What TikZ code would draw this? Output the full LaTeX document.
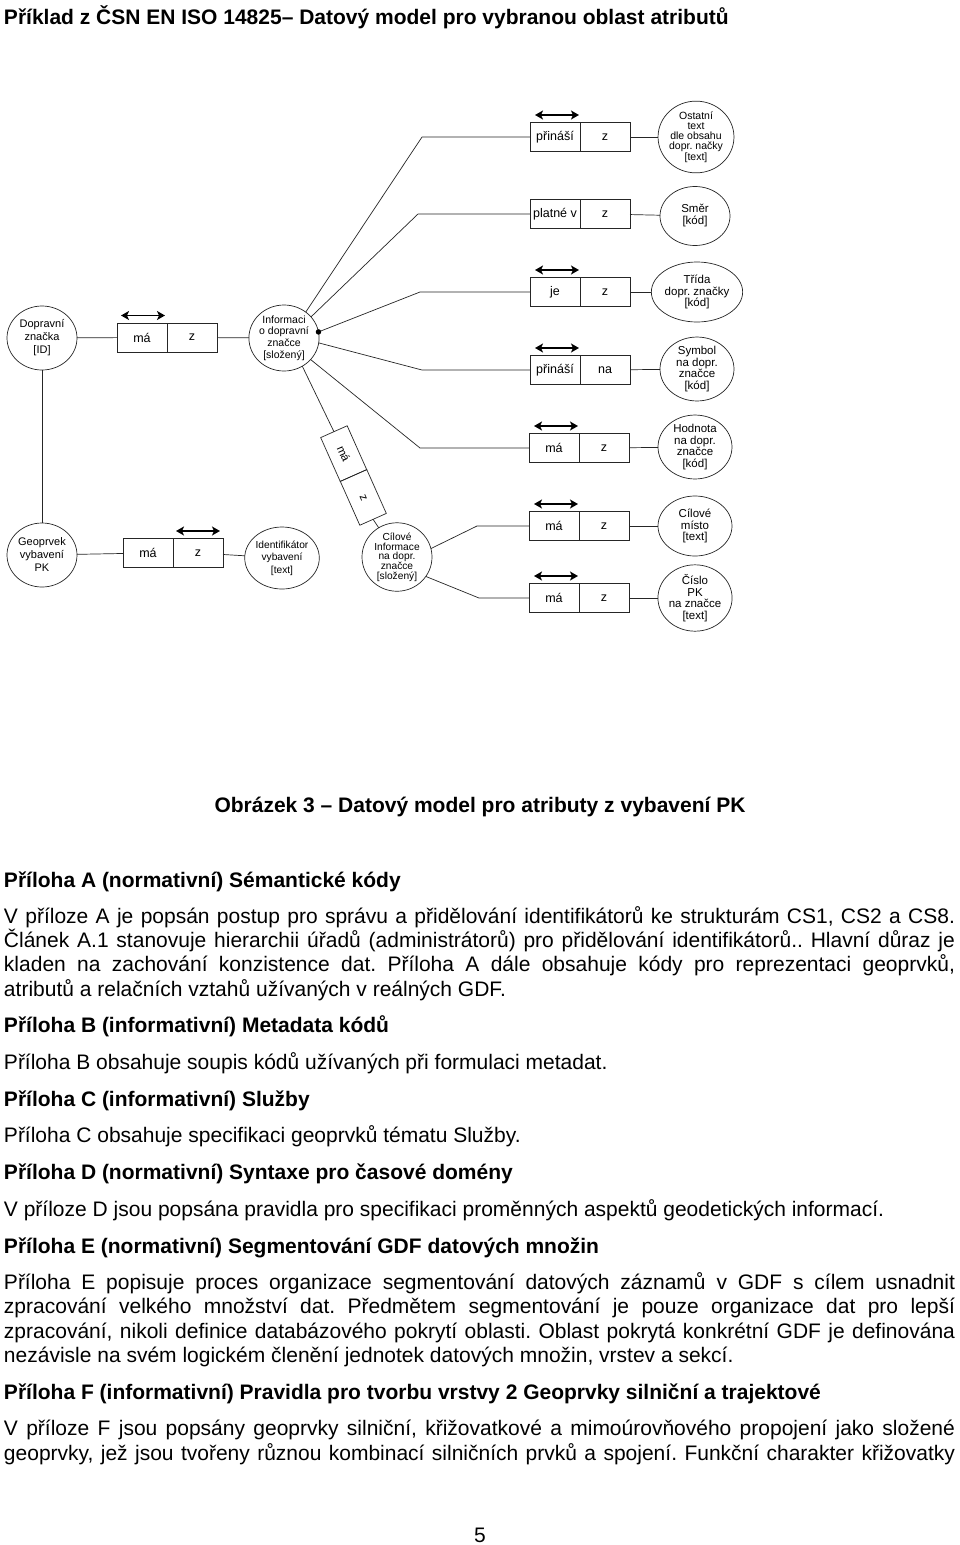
\documentclass[tikz,border=0pt]{standalone}
\usepackage{fontspec}
\setmainfont{Liberation Sans}
\usetikzlibrary{arrows.meta,shapes.geometric}
\newcommand\myfs[2]{\fontsize{#1}{#2}\selectfont}
\frenchspacing
\begin{document}
\begin{tikzpicture}[x=1pt,y=-1pt,
  every node/.style={inner sep=0pt,outer sep=0pt},
  lnk/.style={line width=0.7pt,draw=black!85},
  cell/.style={draw=black!85,line width=0.7pt,minimum width=50pt,minimum height=29pt,font=\myfs{12.5}{14}},
  ent/.style={draw=black!85,ellipse,line width=0.7pt,minimum width=74pt,minimum height=60pt,align=center,font=\myfs{11.5}{11.5}},
  lent/.style={ent,minimum width=70pt,minimum height=64pt,font=\myfs{11}{13}},
  sent/.style={ent,font=\myfs{10.5}{10.2}},
  dbl/.style={line width=1.6pt,{Stealth[length=8pt,width=9pt,inset=2pt]}-{Stealth[length=8pt,width=9pt,inset=2pt]}},
  txt/.style={anchor=base west,font=\myfs{21}{24}},
  hd/.style={anchor=base west,font=\myfs{21}{24}\bfseries},
]
\path[use as bounding box,fill=white] (0,0) rectangle (960,1545);

% ---------- title ----------
\node[hd] (title) at (4,24) {Příklad z ČSN EN ISO 14825– Datový model pro vybranou oblast atributů};

% ---------- left part ----------
\node[lent] (D) at (42,338) {Dopravní\\značka\\{}[ID]};
\node[cell,anchor=east] (la) at (167,337.5) {má};
\node[cell,anchor=west] (lb) at (167,337.5) {z};
\node[ent,minimum width=68pt,minimum height=66pt,font=\myfs{10.5}{11.7}] (I) at (284,338) {Informaci\\o dopravní\\značce\\{}[složený]};
\draw[lnk] (D) -- (la);
\draw[lnk] (lb) -- (I);
\draw[dbl] ([xshift=4pt,yshift=7.5pt]la.north west) -- ([xshift=-2pt,yshift=7.5pt]la.north east);

\node[lent] (G) at (42,555) {Geoprvek\\vybavení\\PK};
\node[cell,anchor=east] (lc) at (173,553) {má};
\node[cell,anchor=west] (ld) at (173,553) {z};
\node[lent,minimum height=62pt,font=\myfs{10.2}{12.5}] (Id) at (282,558) {Identifikátor\\vybavení\\{}[text]};
\draw[lnk] (D) -- (G);
\draw[lnk] (G) -- (lc);
\draw[lnk] (ld) -- (Id);
\draw[dbl] ([xshift=3pt,yshift=7.5pt]ld.north west) -- ([xshift=-3pt,yshift=7.5pt]ld.north east);

% ---------- rotated box ----------
\node[cell,rotate=-66,minimum width=48pt,font=\myfs{11.5}{13}] (ra) at (343.7,453.6) {má};
\node[cell,rotate=-66,minimum width=48pt,font=\myfs{11.5}{13}] (rb) at (363.3,497.4) {z};
\node[sent,minimum width=70pt,minimum height=62pt,font=\myfs{10.2}{9.7}] (CI) at (397,557) {Cílové\\Informace\\na dopr.\\značce\\{}[složený]};
\draw[lnk] (I.-57) -- (ra.west);
\draw[lnk] (rb.east) -- (CI.122);

% ---------- right column ----------
\coordinate (e1) at (422,137);
\coordinate (e2) at (418,214);
\coordinate (e3) at (420,292);
\coordinate (e4) at (422,370);
\coordinate (e5) at (420,448);
\coordinate (e6) at (477,526);
\coordinate (e7) at (479,598);

\node[cell,anchor=east] (r1a) at (580,137) {přináší};
\node[cell,anchor=west] (r1b) at (580,137) {z};
\node[sent,minimum width=66pt,minimum height=56pt] (c1) at (696,137) {Ostatní\\text\\dle obsahu\\dopr. načky\\{}[text]};

\node[cell,anchor=east] (r2a) at (580,214) {platné v};
\node[cell,anchor=west] (r2b) at (580,214) {z};
\node[ent,minimum width=70pt,minimum height=59pt,font=\myfs{11.5}{12}] (c2) at (695,216) {Směr\\{}[kód]};

\node[cell,anchor=east] (r3a) at (580,292) {je};
\node[cell,anchor=west] (r3b) at (580,292) {z};
\node[ent] (c3) at (697,292) {Třída\\dopr. značky\\{}[kód]};

\node[cell,anchor=east] (r4a) at (580,370) {přináší};
\node[cell,anchor=west] (r4b) at (580,370) {na};
\node[ent] (c4) at (697,369) {Symbol\\na dopr.\\značce\\{}[kód]};

\node[cell,anchor=east] (r5a) at (579,448) {má};
\node[cell,anchor=west] (r5b) at (579,448) {z};
\node[ent] (c5) at (695,447) {Hodnota\\na dopr.\\značce\\{}[kód]};

\node[cell,anchor=east] (r6a) at (579,526) {má};
\node[cell,anchor=west] (r6b) at (579,526) {z};
\node[ent] (c6) at (695,526) {Cílové\\místo\\{}[text]};

\node[cell,anchor=east] (r7a) at (579,598) {má};
\node[cell,anchor=west] (r7b) at (579,598) {z};
\node[ent] (c7) at (695,598) {Číslo\\PK\\na značce\\{}[text]};

\foreach \i in {1,...,7} {
  \draw[lnk] (r\i b) -- (c\i);
}
\foreach \i in {1,3,4,5,6,7} {
  \draw[dbl] ([xshift=5pt,yshift=7.5pt]r\i a.north west) -- ([xshift=-1pt,yshift=7.5pt]r\i a.north east);
}

\draw[lnk] (I.50) -- (e1) -- (r1a.west);
\draw[lnk] (I.38) -- (e2) -- (r2a.west);
\draw[lnk] (I.10) -- (e3) -- (r3a.west);
\draw[lnk] (I.-8) -- (e4) -- (r4a.west);
\draw[lnk] (I.-39) -- (e5) -- (r5a.west);
\draw[lnk] (CI.14) -- (e6) -- (r6a.west);
\draw[lnk] (CI.-34) -- (e7) -- (r7a.west);
\node[circle,fill=black,minimum size=5.5pt] (dot) at (I.10) {};

% ---------- caption and text ----------
\node[hd,anchor=base] (cap) at (480,812) {Obrázek 3 – Datový model pro atributy z vybavení PK};

\node[hd] (hA) at (4,887) {Příloha A (normativní) Sémantické kódy};
\node[txt] (a1) at (4,923) {\makebox[951pt][s]{V příloze A je popsán postup pro správu a přidělování identifikátorů ke strukturám CS1, CS2 a CS8.}};
\node[txt] (a2) at (4,947) {\makebox[951pt][s]{Článek A.1 stanovuje hierarchii úřadů (administrátorů) pro přidělování identifikátorů.. Hlavní důraz je}};
\node[txt] (a3) at (4,971) {\makebox[951pt][s]{kladen na zachování konzistence dat. Příloha A dále obsahuje kódy pro reprezentaci geoprvků,}};
\node[txt] (a4) at (4,996) {atributů a relačních vztahů užívaných v reálných GDF.};

\node[hd] (hB) at (4,1032) {Příloha B (informativní) Metadata kódů};
\node[txt] (b1) at (4,1069) {Příloha B obsahuje soupis kódů užívaných při formulaci metadat.};

\node[hd] (hC) at (4,1106) {Příloha C (informativní) Služby};
\node[txt] (c1t) at (4,1142) {Příloha C obsahuje specifikaci geoprvků tématu Služby.};

\node[hd] (hD) at (4,1179) {Příloha D (normativní) Syntaxe pro časové domény};
\node[txt] (d1) at (4,1216) {V příloze D jsou popsána pravidla pro specifikaci proměnných aspektů geodetických informací.};

\node[hd] (hE) at (4,1253) {Příloha E (normativní) Segmentování GDF datových množin};
\node[txt] (e1t) at (4,1289) {\makebox[951pt][s]{Příloha E popisuje proces organizace segmentování datových záznamů v GDF s cílem usnadnit}};
\node[txt] (e2t) at (4,1313) {\makebox[951pt][s]{zpracování velkého množství dat. Předmětem segmentování je pouze organizace dat pro lepší}};
\node[txt] (e3t) at (4,1338) {\makebox[951pt][s]{zpracování, nikoli definice databázového pokrytí oblasti. Oblast pokrytá konkrétní GDF je definována}};
\node[txt] (e4t) at (4,1362) {nezávisle na svém logickém členění jednotek datových množin, vrstev a sekcí.};

\node[hd] (hF) at (4,1399) {Příloha F (informativní) Pravidla pro tvorbu vrstvy 2 Geoprvky silniční a trajektové};
\node[txt] (f1) at (4,1435) {\makebox[951pt][s]{V příloze F jsou popsány geoprvky silniční, křižovatkové a mimoúrovňového propojení jako složené}};
\node[txt] (f2) at (4,1460) {\makebox[951pt][s]{geoprvky, jež jsou tvořeny různou kombinací silničních prvků a spojení. Funkční charakter křižovatky}};

\node[txt,anchor=base] (pg) at (480,1542) {5};
\end{tikzpicture}
\end{document}
